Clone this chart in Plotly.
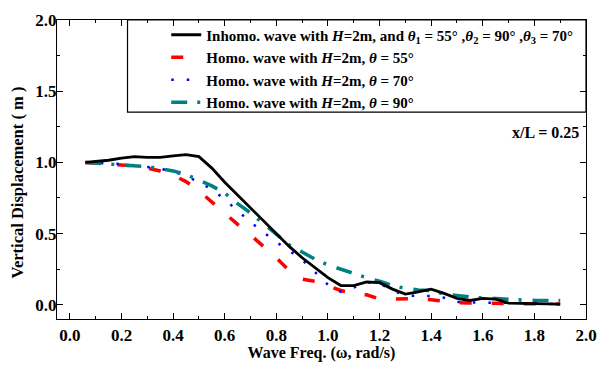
import plotly.graph_objects as go

freq = [0.06, 0.1, 0.15, 0.2, 0.25, 0.3, 0.35, 0.4, 0.45, 0.5, 0.55, 0.6, 0.65, 0.7, 0.75,
        0.8, 0.85, 0.9, 0.95, 1.0, 1.05, 1.1, 1.15, 1.2, 1.25, 1.3, 1.35, 1.4, 1.45, 1.5,
        1.55, 1.6, 1.65, 1.7, 1.75, 1.8, 1.85, 1.9]

inhomo = [1.0, 1.005, 1.015, 1.03, 1.04, 1.035, 1.035, 1.045, 1.055, 1.04, 0.96, 0.86, 0.77, 0.68, 0.59,
          0.50, 0.41, 0.33, 0.26, 0.19, 0.135, 0.135, 0.16, 0.155, 0.11, 0.075, 0.09, 0.11, 0.08, 0.045,
          0.03, 0.045, 0.04, 0.012, 0.01, 0.008, 0.006, 0.005]

homo55 = [1.0, 0.995, 0.99, 0.985, 0.975, 0.96, 0.94, 0.91, 0.865, 0.80, 0.72, 0.64, 0.565, 0.49, 0.41,
          0.33, 0.24, 0.18, 0.165, 0.135, 0.10, 0.077, 0.07, 0.04, 0.04, 0.04, 0.042, 0.035, 0.025, 0.015,
          0.012, 0.01, 0.01, 0.008, 0.008, 0.007, 0.006, 0.005]

homo70 = [1.0, 0.997, 0.993, 0.988, 0.98, 0.97, 0.955, 0.935, 0.905, 0.86, 0.81, 0.74, 0.66, 0.58, 0.51,
          0.44, 0.38, 0.315, 0.23, 0.14, 0.09, 0.12, 0.16, 0.15, 0.10, 0.065, 0.062, 0.062, 0.05, 0.02,
          0.016, 0.016, 0.016, 0.016, 0.015, 0.012, 0.006, 0.005]

homo90 = [1.0, 0.995, 0.99, 0.985, 0.98, 0.97, 0.955, 0.94, 0.915, 0.875, 0.835, 0.785, 0.71, 0.645, 0.57,
          0.49, 0.42, 0.37, 0.32, 0.28, 0.25, 0.215, 0.19, 0.165, 0.135, 0.115, 0.104, 0.1, 0.075, 0.065,
          0.055, 0.046, 0.044, 0.036, 0.034, 0.031, 0.03, 0.03]

names = [
    "<b>Inhomo. wave with <i>H</i>=2m, and <i>θ</i><sub>1</sub> = 55° ,<i>θ</i><sub>2</sub> = 90° ,<i>θ</i><sub>3</sub> = 70°</b>",
    "<b>Homo. wave with <i>H</i>=2m, <i>θ</i> = 55°</b>",
    "<b>Homo. wave with <i>H</i>=2m, <i>θ</i> = 70°</b>",
    "<b>Homo. wave with <i>H</i>=2m, <i>θ</i> = 90°</b>",
]

x_ticks = [0.0, 0.2, 0.4, 0.6, 0.8, 1.0, 1.2, 1.4, 1.6, 1.8, 2.0]
y_ticks = [0.0, 0.5, 1.0, 1.5, 2.0]

FONT = "Liberation Serif"

fig = go.Figure()
fig.add_trace(go.Scatter(x=freq, y=homo55, mode="lines", name=names[1], legendrank=2,
                         line=dict(color="#ff0000", width=3.5, dash="12px,20px")))
fig.add_trace(go.Scatter(x=freq, y=homo70, mode="lines", name=names[2], legendrank=3,
                         line=dict(color="#0000ff", width=2.5, dash="2.5px,13px")))
fig.add_trace(go.Scatter(x=freq, y=homo90, mode="lines", name=names[3], legendrank=4,
                         line=dict(color="#008080", width=3.5, dash="16px,10px,3px,11px")))
fig.add_trace(go.Scatter(x=freq, y=inhomo, mode="lines", name=names[0], legendrank=1,
                         line=dict(color="#000000", width=2.8)))

axis_common = dict(
    showline=True, linecolor="black", linewidth=1.2, mirror="allticks",
    ticks="inside", ticklen=6, tickwidth=1.2, tickcolor="black",
    showgrid=False, zeroline=False,
    tickfont=dict(family=FONT, size=17, color="black"),
)

fig.update_xaxes(range=[-0.05, 2.0], tickvals=x_ticks,
                 ticktext=[f"<b>{v:.1f}</b>" for v in x_ticks],
                 title=dict(text="<b>Wave Freq. (ω, rad/s)</b>", font=dict(family=FONT, size=16, color="black"),
                            standoff=2),
                 minor=dict(ticks="inside", ticklen=3, tickwidth=1, tickcolor="black", dtick=0.1, tick0=0),
                 **axis_common)
fig.update_yaxes(range=[-0.1, 2.0], tickvals=y_ticks,
                 ticktext=[f"<b>{v:.1f}</b>" for v in y_ticks],
                 ticklabelstandoff=-4,
                 minor=dict(ticks="inside", ticklen=3, tickwidth=1, tickcolor="black", dtick=0.25, tick0=0),
                 **axis_common)

fig.add_annotation(text="<b>Vertical Displacement ( m )</b>", xref="paper", yref="paper",
                   x=-57/540 + 17/540, y=(323-183)/307, textangle=-90, showarrow=False,
                   xanchor="center", yanchor="middle",
                   font=dict(family=FONT, size=16.5, color="black"))

fig.add_shape(type="rect", xref="paper", yref="paper", x0=0.1333, x1=1.0, y0=0.692, y1=1.0,
              line=dict(color="black", width=1.2), fillcolor="rgba(0,0,0,0)")

fig.add_annotation(text="<b>x/L = 0.25</b>", xref="paper", yref="paper", x=0.99, y=0.625,
                   xanchor="right", yanchor="middle", showarrow=False,
                   font=dict(family=FONT, size=16, color="black"))

fig.update_layout(
    width=608, height=369,
    margin=dict(l=57, r=11, t=16, b=46),
    plot_bgcolor="white", paper_bgcolor="white",
    font=dict(family=FONT, color="black"),
    legend=dict(x=0.2065, y=1.005, xanchor="left", yanchor="top",
                bgcolor="rgba(0,0,0,0)", borderwidth=0,
                font=dict(family=FONT, size=15, color="black"),
                tracegroupgap=0, itemwidth=30),
)

fig.write_html("out.html")
